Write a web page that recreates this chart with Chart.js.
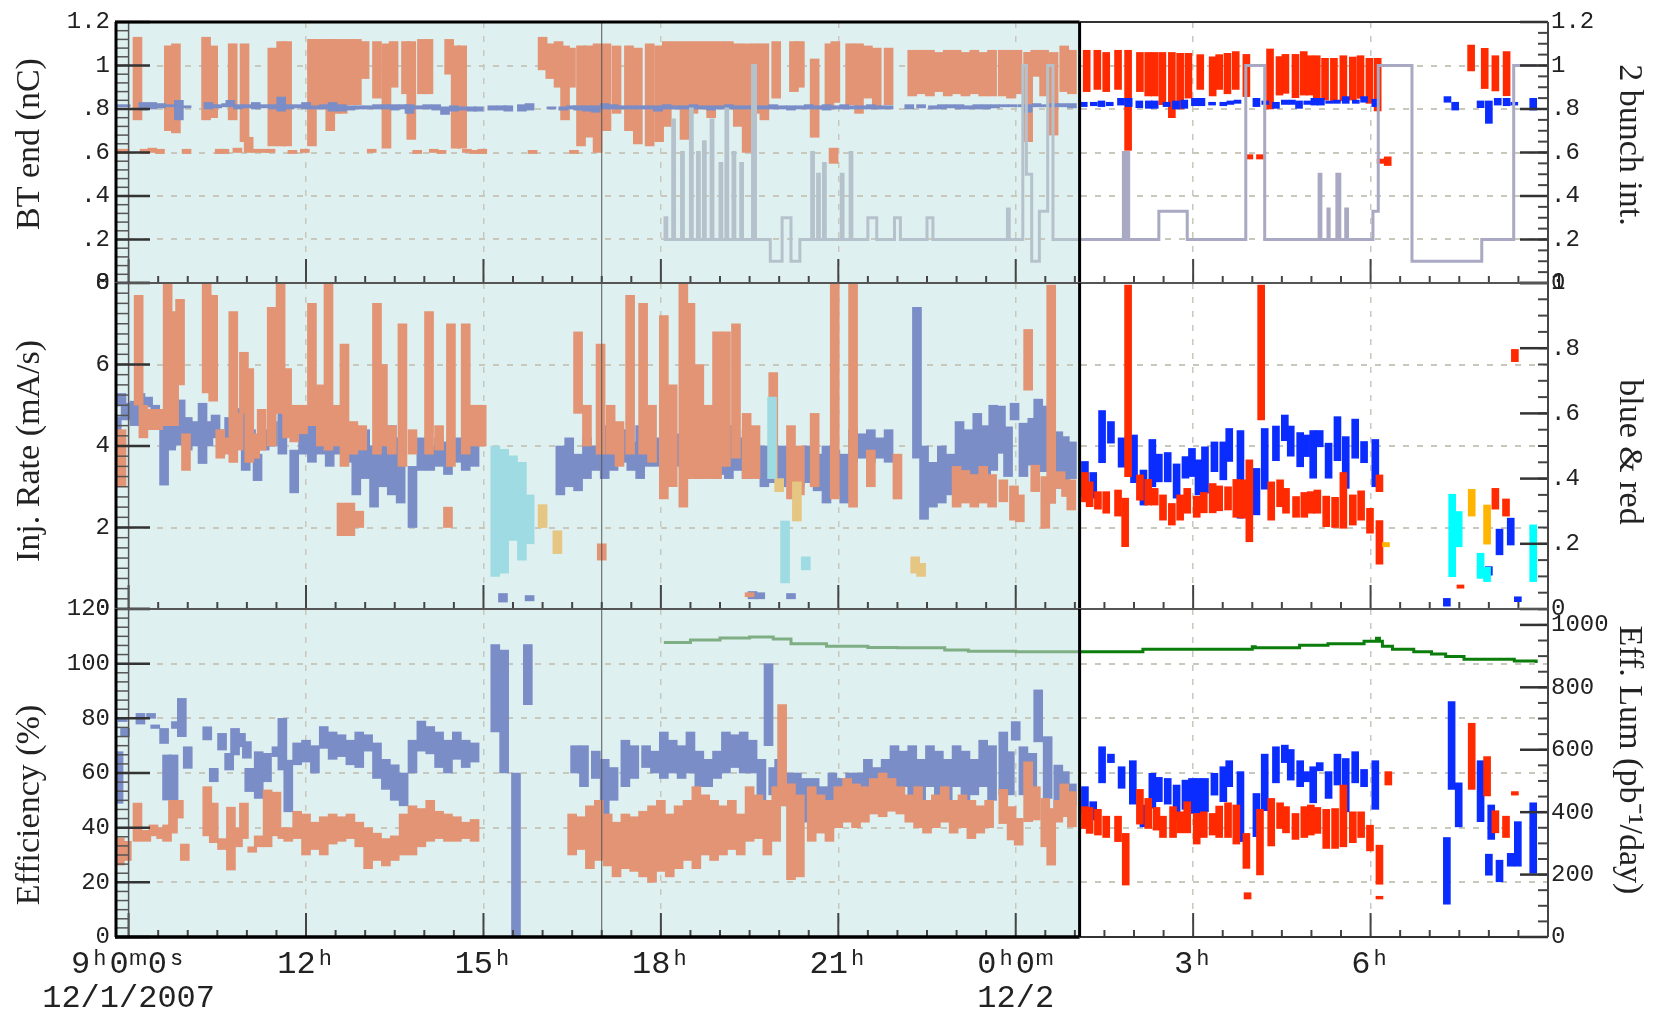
<!DOCTYPE html>
<html>
<head>
<meta charset="utf-8">
<title>Injection summary 12/1/2007</title>
<script src="https://cdn.jsdelivr.net/npm/chart.js@4.4.1/dist/chart.umd.min.js"></script>
<style>
  body { margin: 0; background: #fff; }
  #box { position: relative; width: 1662px; height: 1015px; }
  #box canvas { position: absolute; left: 0; top: 0; }
</style>
</head>
<body>
<div id="box">
  <canvas id="pTop" width="1662" height="1015"></canvas>
  <canvas id="pMid" width="1662" height="1015"></canvas>
  <canvas id="pBot" width="1662" height="1015"></canvas>
</div>
<script>
// time is in hours from 0h of 12/1/2007 (24 = 0h on 12/2)
const NOW = 25.08;            // end of the shaded history part
const T_MIN = 8.77, T_MAX = 33.0;
const markerHour = 17;

const xTickHours = [9, 12, 15, 18, 21, 24, 27, 30];
const xTickLabels = [['9ʰ0ᵐ0ˢ', '12/1/2007'], '12ʰ', '15ʰ', '18ʰ', '21ʰ', ['0ʰ0ᵐ', '12/2'], '3ʰ', '6ʰ'];

const chargeTicks = [0, 0.2, 0.4, 0.6, 0.8, 1, 1.2];
const rateTicks = [0, 2, 4, 6, 8];
const ratioTicks = [0, 0.2, 0.4, 0.6, 0.8, 1];
const effTicks = [0, 20, 40, 60, 80, 100, 120];
const lumTicks = [0, 200, 400, 600, 800, 1000];

// ---- top: BT end charge (nC), [time, low, high]
const herCharge = [
  [8.80,0.595,0.615],[8.93,0.595,0.615],[9.27,0.595,0.615],[9.40,0.60,0.62],[9.53,0.595,0.615],
  [9.98,0.595,0.615],[10.54,0.595,0.615],[10.62,0.595,0.615],[10.84,0.60,0.62],[11.03,0.60,0.67],
  [11.17,0.60,0.615],[11.30,0.60,0.615],[11.40,0.60,0.615],[11.77,0.595,0.61],[11.98,0.60,0.615],
  [13.11,0.60,0.615],[13.88,0.595,0.61],[14.16,0.60,0.615],[14.29,0.595,0.61],[14.72,0.60,0.615],
  [14.85,0.595,0.61],[14.98,0.595,0.615],[15.83,0.595,0.61],[16.53,0.595,0.61],
  [9.15,0.75,1.13],[9.68,0.70,1.09],[9.80,0.69,1.10],[10.31,0.75,1.13],[10.43,0.76,1.09],
  [10.76,0.75,1.10],[10.96,0.65,1.10],[11.43,0.63,1.08],[11.58,0.63,1.11],[11.68,0.63,1.11],
  [12.10,0.63,1.12],[12.21,0.80,1.12],[12.31,0.80,1.12],[12.41,0.70,1.12],[12.51,0.78,1.12],
  [12.62,0.78,1.12],[12.74,0.82,1.12],[12.86,0.82,1.12],[12.99,0.94,1.11],[13.20,0.85,1.11],
  [13.36,0.62,1.10],[13.48,0.90,1.11],[13.69,0.87,1.11],[13.78,0.66,1.11],[13.96,0.87,1.12],
  [14.07,0.87,1.12],[14.42,0.96,1.12],[14.53,0.62,1.09],[14.64,0.62,1.09],[16.00,0.98,1.13],
  [16.13,0.94,1.10],[16.27,0.90,1.11],[16.38,0.75,1.09],[16.48,0.90,1.08],[16.65,0.63,1.09],
  [16.78,0.67,1.09],[16.93,0.60,1.10],[17.08,0.70,1.10],[17.25,0.78,1.09],[17.46,0.70,1.09],
  [17.61,0.64,1.08],[17.81,0.63,1.10],[17.97,0.65,1.09],
  [18.10,0.72,1.11],[18.25,0.80,1.11],[18.40,0.66,1.11],[18.55,0.78,1.11],[18.70,0.80,1.11],
  [18.85,0.76,1.11],[19.00,0.81,1.11],[19.15,0.80,1.11],[19.30,0.72,1.10],[19.45,0.60,1.10],
  [19.60,0.78,1.10],[19.75,0.75,1.10],[19.95,0.85,1.11],[20.25,0.88,1.11],[20.35,0.90,1.11],
  [20.60,0.67,1.03],[20.85,0.80,1.10],[20.95,0.83,1.11],[20.92,0.55,0.62],[21.20,0.82,1.10],
  [21.35,0.78,1.10],[21.50,0.85,1.09],[21.65,0.80,1.08],[21.85,0.82,1.08],
  [22.25,0.86,1.07],[22.40,0.87,1.07],[22.55,0.86,1.07],[22.70,0.88,1.06],[22.85,0.86,1.07],
  [23.00,0.87,1.07],[23.15,0.86,1.06],[23.30,0.87,1.07],[23.45,0.86,1.06],[23.60,0.86,1.07],
  [23.78,0.86,1.07],[23.92,0.85,1.07],[24.03,0.87,1.07],[24.21,0.65,1.06],[24.33,0.95,1.07],
  [24.48,0.86,1.07],[24.64,0.68,1.06],[24.82,0.88,1.09],[24.95,0.87,1.07],
  [25.20,0.88,1.07],[25.38,0.89,1.07],[25.53,0.88,1.06],[25.73,0.89,1.07],[25.90,0.61,1.07],
  [26.10,0.88,1.06],[26.24,0.86,1.06],[26.35,0.86,1.06],[26.48,0.82,1.06],[26.64,0.76,1.06],
  [26.78,0.80,1.056],[26.92,0.85,1.056],[27.12,0.89,1.05],[27.33,0.86,1.04],[27.44,0.89,1.05],
  [27.58,0.87,1.056],[27.72,0.89,1.064],[27.90,0.857,1.051],[27.95,0.57,0.59],[28.13,0.57,0.59],
  [28.30,0.80,1.076],[28.46,0.864,1.041],[28.56,0.872,1.051],[28.73,0.852,1.051],[28.87,0.864,1.064],
  [28.97,0.864,1.045],[29.09,0.841,1.045],[29.23,0.841,1.033],[29.38,0.837,1.033],[29.54,0.837,1.045],
  [29.70,0.841,1.039],[29.83,0.849,1.045],[29.98,0.826,1.033],[30.12,0.791,1.033],[30.17,0.55,0.57],
  [30.29,0.54,0.58],[31.70,0.975,1.094],[31.93,0.894,1.079],[32.11,0.883,1.045],[32.30,0.861,1.064]
];
const lerCharge = [
  [8.80,0.81,0.82],[8.95,0.81,0.82],[9.25,0.795,0.83],[9.40,0.80,0.83],[9.55,0.805,0.825],
  [9.70,0.81,0.82],[9.85,0.75,0.84],[9.98,0.805,0.815],[10.35,0.80,0.83],[10.50,0.805,0.82],
  [10.65,0.81,0.825],[10.72,0.81,0.84],[10.85,0.80,0.82],[11.00,0.805,0.82],[11.15,0.80,0.83],
  [11.30,0.805,0.82],[11.45,0.80,0.82],[11.58,0.79,0.855],[11.72,0.80,0.82],[11.88,0.805,0.82],
  [12.00,0.80,0.83],[12.15,0.80,0.815],[12.30,0.80,0.82],[12.45,0.79,0.83],[12.60,0.79,0.82],
  [12.75,0.795,0.815],[12.90,0.80,0.815],[13.05,0.80,0.815],[13.20,0.80,0.82],[13.35,0.80,0.82],
  [13.50,0.795,0.82],[13.65,0.80,0.82],[13.75,0.78,0.82],[13.90,0.80,0.815],[14.05,0.80,0.82],
  [14.20,0.795,0.82],[14.35,0.775,0.81],[14.50,0.79,0.815],[14.65,0.795,0.81],[14.80,0.79,0.81],
  [14.92,0.79,0.81],[15.15,0.795,0.815],[15.30,0.795,0.815],[15.42,0.79,0.815],[15.65,0.79,0.82],
  [15.78,0.795,0.825],[16.15,0.80,0.81],[16.35,0.795,0.81],[16.48,0.80,0.815],[16.60,0.795,0.815],
  [16.75,0.79,0.815],[16.90,0.785,0.815],[17.05,0.80,0.825],[17.20,0.80,0.82],[17.35,0.80,0.815],
  [17.50,0.80,0.815],[17.65,0.80,0.815],[17.80,0.80,0.815],[17.95,0.79,0.815],[18.10,0.80,0.82],
  [18.25,0.80,0.815],[18.40,0.80,0.815],[18.55,0.80,0.82],[18.70,0.80,0.815],[18.85,0.795,0.815],
  [19.00,0.80,0.815],[19.15,0.80,0.82],[19.30,0.80,0.815],[19.45,0.80,0.815],[19.60,0.80,0.815],
  [19.75,0.80,0.815],[19.90,0.80,0.82],[20.05,0.80,0.815],[20.20,0.795,0.815],[20.35,0.80,0.815],
  [20.50,0.80,0.82],[20.65,0.80,0.815],[20.80,0.795,0.82],[20.95,0.80,0.815],[21.10,0.80,0.82],
  [21.25,0.80,0.815],[21.40,0.80,0.815],[21.55,0.80,0.82],[21.70,0.80,0.815],[21.85,0.80,0.815],
  [22.20,0.80,0.82],[22.40,0.805,0.82],[22.60,0.80,0.815],[22.75,0.80,0.82],[22.90,0.805,0.82],
  [23.05,0.80,0.82],[23.20,0.80,0.815],[23.35,0.80,0.82],[23.50,0.80,0.82],[23.65,0.805,0.82],
  [23.80,0.81,0.82],[23.95,0.81,0.82],[24.12,0.81,0.82],[24.20,0.785,0.82],[24.35,0.81,0.825],
  [24.50,0.81,0.82],[24.65,0.81,0.825],[24.80,0.81,0.825],[24.95,0.805,0.825],
  [25.15,0.811,0.831],[25.32,0.815,0.831],[25.45,0.811,0.837],[25.59,0.815,0.831],[25.78,0.818,0.849],
  [25.91,0.811,0.849],[26.09,0.806,0.837],[26.25,0.803,0.837],[26.35,0.803,0.837],[26.55,0.811,0.831],
  [26.71,0.800,0.837],[26.85,0.803,0.841],[27.03,0.815,0.849],[27.14,0.815,0.849],[27.32,0.818,0.831],
  [27.51,0.815,0.831],[27.63,0.821,0.837],[27.75,0.826,0.841],[28.07,0.811,0.849],[28.22,0.821,0.837],
  [28.40,0.803,0.831],[28.55,0.821,0.841],[28.67,0.821,0.841],[28.79,0.803,0.837],[28.93,0.821,0.837],
  [29.05,0.818,0.849],[29.16,0.818,0.849],[29.30,0.826,0.837],[29.43,0.826,0.841],[29.58,0.826,0.857],
  [29.75,0.826,0.841],[29.89,0.831,0.857],[30.08,0.811,0.845],[31.30,0.831,0.857],[31.43,0.795,0.831],
  [31.86,0.806,0.837],[32.00,0.734,0.837],[32.15,0.818,0.849],[32.30,0.815,0.849],[32.43,0.818,0.831],
  [32.75,0.795,0.849]
];
// two bunch intensity, step line [time, value]
const twoBunch = [
  [18.05,0.2],[18.07,0.3],[18.1,0.2],[18.2,0.75],[18.23,0.2],[18.35,0.6],[18.38,0.2],[18.5,0.8],
  [18.53,0.2],[18.62,0.6],[18.65,0.2],[18.72,0.65],[18.75,0.2],[18.85,0.75],[18.88,0.2],[19.0,0.55],
  [19.03,0.2],[19.1,0.8],[19.13,0.2],[19.22,0.6],[19.25,0.2],[19.35,0.55],[19.38,0.2],[19.55,1.0],
  [19.6,0.2],[19.85,0.1],[20.05,0.3],[20.2,0.1],[20.35,0.2],[20.55,0.6],[20.58,0.2],[20.65,0.5],
  [20.68,0.2],[20.75,0.55],[20.78,0.2],[21.05,0.5],[21.08,0.2],[21.2,0.6],[21.23,0.2],[21.5,0.3],
  [21.65,0.2],[21.95,0.3],[22.05,0.2],[22.5,0.3],[22.6,0.2],[23.86,0.34],[23.89,0.2],[24.12,1.0],
  [24.18,0.5],[24.27,0.1],[24.4,0.33],[24.54,1.0],[24.63,0.2],[25.08,0.2],
  [25.82,0.6],[25.85,0.2],[25.88,0.6],[25.91,0.2],[26.42,0.33],[26.90,0.2],[27.89,1.0],[28.21,0.2],
  [29.13,0.5],[29.16,0.2],[29.28,0.34],[29.30,0.2],[29.43,0.5],[29.48,0.2],[29.58,0.34],[29.61,0.2],
  [30.04,0.33],[30.13,1.0],[30.70,0.1],[31.88,0.2],[32.42,1.0],[32.81,1.0]
];

// ---- middle: injection rate (mA/s)
const herRate = [
  [8.88,3.0,4.4],[9.17,5.0,7.7],[9.25,4.2,5.0],[9.35,4.4,4.9],[9.5,4.4,4.9],[9.66,4.5,8.0],
  [9.77,4.5,7.3],[9.87,5.5,7.6],[9.97,3.4,4.3],[10.32,5.3,8.0],[10.43,5.1,7.7],[10.55,3.7,4.4],
  [10.65,3.8,4.2],[10.77,3.6,7.3],[10.86,3.9,4.8],[10.95,4.8,6.3],[11.04,3.6,5.9],[11.14,3.7,4.3],
  [11.25,3.9,4.9],[11.42,4.0,7.4],[11.57,4.8,8.0],[11.68,4.2,5.9],[11.8,4.1,5.0],[11.95,4.3,5.0],
  [12.1,4.5,7.5],[12.25,4.0,5.5],[12.38,3.9,8.0],[12.5,4.0,5.0],[12.65,3.5,6.5],[12.8,3.8,4.6],
  [12.95,3.9,4.5],[13.2,3.8,7.5],[13.3,4.0,6.0],[13.45,3.8,4.5],[13.63,3.5,7.0],[13.8,3.8,4.4],
  [14.08,3.8,7.3],[14.25,3.9,4.5],[14.45,3.5,7.0],[14.7,3.8,7.0],[14.85,4.0,5.0],[14.97,4.0,5.0],
  [12.6,1.8,2.6],[12.75,1.8,2.6],[12.9,2.0,2.4],[14.4,2.0,2.5],
  [16.6,4.8,6.8],[16.75,4.0,5.0],[16.98,3.8,6.5],[17.0,1.2,1.6],[17.15,3.8,5.0],[17.3,3.5,4.6],
  [17.48,3.8,7.7],[17.7,3.8,7.5],[17.85,3.6,5.0],[18.05,2.7,7.2],[18.2,3.0,5.5],[18.38,2.5,8.0],
  [18.5,3.2,7.5],[18.65,3.2,6.0],[18.8,3.2,5.0],[18.95,3.2,6.8],[19.1,3.5,6.8],[19.27,3.7,7.0],
  [19.45,3.2,4.8],[19.5,0.3,0.4],[19.6,3.2,4.5],[19.9,3.2,5.8],[20.2,2.7,4.5],[20.35,2.8,4.0],
  [20.6,3.0,4.8],[20.94,2.7,8.0],[21.25,2.5,8.0],[21.55,3.0,3.9],[22.0,2.7,3.8],
  [23.0,2.5,3.5],[23.15,2.6,3.4],[23.3,2.5,3.3],[23.45,2.6,3.5],[23.6,2.5,3.3],[23.79,2.63,3.17],
  [23.97,2.18,3.02],[24.07,2.14,2.8],[24.21,5.37,6.86],[24.33,2.88,3.53],[24.5,1.98,3.25],
  [24.6,2.59,7.95],[24.76,2.96,3.37],[24.85,2.76,3.17],[24.94,2.43,3.17],
  [25.17,2.63,3.35],[25.25,2.51,3.12],[25.39,2.45,2.88],[25.53,2.35,2.88],[25.73,2.28,2.92],
  [25.90,3.25,7.95],[25.85,1.53,2.72],[26.10,2.67,3.29],[26.24,2.55,3.18],[26.35,2.55,2.96],
  [26.49,2.18,2.80],[26.64,2.06,2.59],[26.78,2.18,2.80],[26.90,2.35,2.96],[27.06,2.25,2.77],
  [27.18,2.36,2.86],[27.33,2.36,3.08],[27.44,2.41,3.02],[27.59,2.43,3.0],[27.73,2.25,3.18],
  [27.84,2.23,3.17],[27.95,1.65,3.66],[28.15,4.64,7.95],[28.32,2.18,3.12],[28.47,2.51,3.17],
  [28.57,2.35,2.96],[28.74,2.25,2.76],[28.88,2.25,2.86],[28.99,2.35,2.88],[29.10,2.35,2.92],
  [29.25,2.02,2.77],[29.40,2.0,2.74],[29.54,1.98,3.35],[29.70,2.06,2.80],[29.84,2.18,2.90],
  [29.99,1.86,2.47],[30.15,2.88,3.29],[30.15,1.1,2.17],[31.52,0.51,0.59],[32.11,2.45,2.96],
  [32.29,2.28,2.70],[32.44,6.07,6.37]
];
const lerRate = [
  [8.80,3.08,4.72],[8.88,4.98,5.29],[8.95,4.64,5.05],[9.10,4.5,5.1],[9.20,4.92,5.29],[9.33,4.96,5.2],
  [9.45,4.6,5.0],[9.60,3.04,4.88],[9.72,3.9,4.7],[9.88,4.02,5.13],[10.0,3.9,4.7],[10.12,4.0,4.6],
  [10.25,3.57,5.05],[10.35,4.0,4.6],[10.47,4.2,4.76],[10.60,4.0,4.4],[10.70,4.2,4.7],[10.80,4.6,4.92],
  [10.90,4.0,4.9],[10.98,3.4,4.3],[11.07,4.0,4.4],[11.18,3.15,3.8],[11.3,3.9,4.4],[11.44,4.0,4.6],
  [11.6,3.8,5.1],[11.8,2.85,3.9],[11.95,3.8,4.6],[12.1,3.6,4.5],[12.25,3.8,4.8],[12.4,3.5,4.3],
  [12.55,3.8,4.6],[12.7,3.6,4.5],[12.85,2.8,4.2],[13.0,3.2,4.4],[13.15,2.5,4.0],[13.3,3.0,4.3],
  [13.45,2.8,4.5],[13.6,2.6,4.2],[13.8,2.0,3.5],[13.95,3.4,4.2],[14.1,3.4,4.0],[14.25,3.5,4.2],
  [14.4,3.3,4.1],[14.55,3.6,4.2],[14.7,3.4,4.1],[14.85,3.5,4.0],
  [15.33,0.17,0.38],[15.78,0.2,0.33],[19.55,0.25,0.43],[19.68,0.25,0.4],[20.2,0.25,0.38],
  [16.3,2.8,4.0],[16.45,3.0,4.2],[16.6,2.9,3.8],[16.75,3.2,4.2],[16.9,3.4,4.0],[17.05,3.2,4.5],
  [17.2,3.4,4.2],[17.35,3.6,4.4],[17.5,3.4,4.1],[17.65,3.2,4.5],[17.8,3.5,4.3],[17.95,3.5,4.2],
  [18.1,3.6,4.4],[18.25,3.5,4.3],[18.4,3.6,4.4],[18.55,3.5,4.2],[18.7,3.6,4.4],[18.85,3.5,4.3],
  [19.0,3.3,4.4],[19.15,3.2,4.5],[19.3,3.4,4.2],[19.45,3.2,4.4],[19.6,3.3,4.0],[19.75,3.0,4.0],
  [19.9,3.1,3.9],[20.05,3.0,4.0],[20.2,3.2,3.8],[20.35,3.0,3.9],[20.5,3.1,4.0],[20.65,2.9,3.8],
  [20.8,2.6,4.0],[20.95,2.8,3.9],[21.1,2.6,3.8],[21.25,3.6,4.4],[21.4,3.7,4.3],[21.55,3.6,4.4],
  [21.7,3.7,4.2],[21.85,3.6,4.4],[22.33,3.7,7.4],[22.45,2.2,4.0],[22.6,2.5,3.6],[22.75,2.6,4.0],
  [22.9,2.8,3.8],[23.05,3.0,4.6],[23.2,3.2,4.4],[23.35,3.0,4.8],[23.5,3.2,4.5],[23.62,3.4,5.0],
  [23.75,3.82,4.98],[23.87,3.25,4.47],[23.98,4.64,5.05],[24.13,3.25,4.56],[24.28,3.53,4.68],
  [24.38,3.37,5.15],[24.54,3.37,4.98],[24.72,2.96,4.35],[24.83,3.17,4.23],[24.95,3.2,4.1],
  [25.17,2.76,3.62],[25.31,2.72,3.35],[25.46,3.59,4.87],[25.61,4.07,4.6],[25.79,3.48,4.2],
  [26.00,3.1,4.27],[26.16,2.55,3.41],[26.31,3.0,4.16],[26.42,3.12,3.8],[26.57,3.12,3.84],
  [26.72,2.72,3.56],[26.87,3.21,3.74],[26.98,3.25,3.94],[27.09,2.8,3.66],[27.20,2.84,3.98],
  [27.36,3.37,4.1],[27.51,3.17,4.1],[27.61,3.62,4.43],[27.80,2.23,4.38],[28.07,2.31,3.45],
  [28.21,2.94,4.43],[28.40,3.64,4.49],[28.55,4.13,4.76],[28.65,3.75,4.49],[28.81,3.49,4.33],
  [28.91,3.74,4.27],[29.03,3.21,4.38],[29.14,3.98,4.38],[29.29,3.21,4.07],[29.44,3.64,4.72],
  [29.58,2.96,4.23],[29.74,3.70,4.66],[29.89,3.59,4.11],[30.08,3.0,4.16],[31.29,0.07,0.26],
  [32.00,0.83,1.04],[32.18,1.33,1.96],[32.37,1.57,2.23],[32.49,0.18,0.30]
];
// "blue & red" ratio bars on the right axis
const cyanRatio = [
  [15.2,0.10,0.50],[15.35,0.11,0.49],[15.5,0.21,0.47],[15.65,0.15,0.45],[15.78,0.20,0.35],
  [19.88,0.40,0.65],[20.1,0.08,0.27],[20.45,0.12,0.16],
  [31.38,0.099,0.352],[31.49,0.191,0.299],[31.86,0.094,0.171],[31.97,0.084,0.128],[32.75,0.084,0.258]
];
const yellowRatio = [
  [16.0,0.25,0.32],[16.25,0.17,0.24],[20.0,0.36,0.40],[20.3,0.27,0.39],[22.3,0.11,0.16],[22.4,0.10,0.14],
  [30.26,0.191,0.204],[31.71,0.285,0.367],[31.97,0.199,0.319]
];

// ---- bottom: efficiency (%)
const herEff = [
  [8.85,26.3,36.2],[8.97,28,35],[9.15,35,49],[9.3,35,39],[9.42,37,41],[9.55,36,40],[9.65,35,41],
  [9.75,38,50],[9.85,43.5,50],[9.95,28,34],[10.33,37,55],[10.44,34.5,49],[10.58,32,36],[10.73,24.5,47.5],
  [10.85,33,40],[10.95,36,49],[11.09,31,33],[11.2,33,37],[11.35,33,53.8],[11.5,37,53],[11.6,36,40],
  [11.7,35,40],[11.85,36,46],[12.0,30,45],[12.15,32,42],[12.3,30,44],[12.45,34,45],[12.6,35,44],
  [12.75,36,45],[12.9,33,42],[13.05,25,40],[13.2,28,38],[13.35,26,36],[13.5,28,37],[13.65,30,45],
  [13.8,30,48],[13.95,33,47],[14.1,35,50],[14.25,36,46],[14.4,35,45],[14.55,35,44],[14.7,36,42],
  [14.85,35,43],[16.5,30,45],[16.65,32,44],[16.8,25,48],[16.95,28,50],[17.1,26,45],[17.25,22,42],
  [17.4,25,45],[17.55,24,44],[17.7,22,46],[17.85,20,48],[18.0,24,50],[18.15,22,45],[18.3,25,48],
  [18.45,28,50],[18.6,25,55],[18.75,30,52],[18.9,28,50],[19.05,30,48],[19.2,32,50],[19.35,30,45],
  [19.5,35,55],[19.65,36,52],[19.8,30,50],[19.95,35,55],[20.05,48,85],[20.2,21,56],[20.35,22,52],
  [20.55,35,55],[20.7,38,52],[20.85,35,50],[21.0,40,55],[21.15,42,58],[21.3,40,56],[21.45,42,55],
  [21.6,45,58],[21.75,44,60],[21.9,46,58],[22.05,45,55],[22.2,42,52],[22.35,40,55],[22.5,38,50],
  [22.65,40,52],[22.8,42,55],[22.95,38,50],[23.1,40,52],[23.25,36,50],[23.4,38,48],[23.55,40,50],
  [23.79,41.5,54],[23.93,35.5,47.7],[24.05,33.6,43.4],[24.21,42.2,64.1],[24.34,42.8,55],
  [24.5,33,50.7],[24.6,26.3,47],[24.72,42,50],[24.82,44,56],[24.95,40.3,53.2],
  [25.17,39.7,47.7],[25.25,37.9,47.4],[25.39,37.3,46.7],[25.53,36.4,44.2],[25.73,34.9,44.2],
  [25.86,19.0,37.9],[26.10,41.3,54.0],[26.24,39.7,50.7],[26.38,39.1,47.4],[26.49,36.4,44.2],
  [26.66,36.4,47.7],[26.78,38.1,45.8],[26.90,38.1,49.5],[27.06,34.0,45.2],[27.18,36.4,45.8],
  [27.33,37.3,45.2],[27.44,36.4,47.9],[27.59,36.4,49.1],[27.73,34.0,48.3],[27.90,25.1,37.9],
  [27.92,13.9,16.2],[28.13,22.7,46.7],[28.32,33.3,50.7],[28.47,39.7,49.1],[28.57,38.1,47.7],
  [28.73,35.7,45.2],[28.88,36.4,47.7],[28.99,37.3,48.3],[29.10,37.9,47.4],[29.25,32.4,46.7],
  [29.40,32.4,47.0],[29.54,33.0,55.6],[29.70,34.5,45.8],[29.84,36.4,45.8],[29.99,31.5,40.9],
  [30.15,19.3,33.6],[30.15,13.9,14.9],[30.30,55.6,60.5],[31.71,54.0,78.2],[31.97,51.6,66.0],
  [32.11,38.1,46.2],[32.29,36.4,44.2],[32.44,51.9,53.2]
];
const lerEff = [
  [8.83,48.9,67.8],[8.9,78.8,80],[8.94,73.3,76.3],[9.2,77.9,81.8],[9.38,80,81.8],[9.45,76.3,77.6],
  [9.6,70.8,76.3],[9.65,50.1,66.6],[9.76,50.1,66.6],[9.8,76.3,78.8],[9.9,73.3,87.3],[10.0,61.7,69.6],
  [10.33,72.1,76.9],[10.44,56.8,61.7],[10.58,68.4,74.5],[10.7,61.1,67.2],[10.8,66.6,76.3],
  [10.9,69.6,74.5],[11.0,65.4,71.5],[11.04,53.2,61.7],[11.2,50.7,67.8],[11.34,56.8,67.2],
  [11.5,66,69.6],[11.6,61.1,80],[11.7,45.8,64.7],[11.85,63,71],[12.0,64,72],[12.15,60,70],
  [12.3,69,77],[12.45,65,75],[12.6,66,74],[12.75,63,72],[12.9,62,75],[13.05,68,74],[13.2,58,71],
  [13.35,54,65],[13.5,50,63],[13.65,48,60],[13.8,60,72],[13.95,68,79],[14.1,67,77],[14.25,62,75],
  [14.4,60,72],[14.55,65,75],[14.7,62,72],[14.85,64,71],[15.2,75,107],[15.35,60,105],[15.55,0,60],
  [15.75,85,107],[16.55,60,70],[16.7,55,70],[16.9,58,68],[17.05,45,65],[17.2,50,62],[17.4,55,72],
  [17.55,58,70],[17.75,62,70],[17.9,60,68],[18.05,58,75],[18.2,60,72],[18.35,58,70],[18.5,60,75],
  [18.65,55,68],[18.8,55,65],[18.95,58,68],[19.1,60,75],[19.25,62,74],[19.4,60,75],[19.55,60,72],
  [19.7,50,65],[19.82,70,100],[19.9,52,62],[20.0,50,65],[20.15,48,60],[20.3,40,60],[20.45,42,58],[20.6,40,58],
  [20.75,40,55],[20.9,45,60],[21.05,45,58],[21.2,48,60],[21.35,45,60],[21.5,50,65],[21.65,50,62],
  [21.8,52,65],[21.95,50,70],[22.1,55,68],[22.25,52,70],[22.4,50,65],[22.55,55,70],[22.7,52,68],
  [22.85,50,65],[23.0,55,70],[23.15,50,68],[23.3,52,65],[23.45,55,72],[23.6,50,70],[23.79,52,75],
  [23.9,52,67.8],[24.0,72,78.8],[24.13,52,69.6],[24.28,53.2,67.2],[24.38,71.4,90.4],[24.54,50.7,73.3],
  [24.72,45.8,62.9],[24.83,51.3,60.5],[24.95,48,56],
  [25.17,45.2,55.0],[25.31,42.8,49.5],[25.46,56.4,69.6],[25.61,63.8,66.9],[25.79,54.4,62.3],
  [25.98,48.6,64.5],[26.16,40.3,48.3],[26.31,47.1,59.9],[26.42,49.5,58.4],[26.57,48.6,58.0],
  [26.72,42.8,55.6],[26.87,46.7,57.4],[26.98,45.2,58.0],[27.09,45.2,58.0],[27.20,45.8,58.0],
  [27.36,51.9,59.9],[27.51,49.5,62.3],[27.61,55.0,64.5],[27.80,34.9,60.5],[28.07,36.7,52.5],
  [28.21,46.2,66.9],[28.40,56.4,69.6],[28.55,63.8,70.2],[28.65,57.4,68.6],[28.81,55.0,64.5],
  [28.91,56.8,60.5],[29.03,49.1,62.3],[29.14,60.8,63.8],[29.29,50.7,60.5],[29.44,55.6,66.9],
  [29.58,45.8,65.3],[29.74,56.4,67.8],[29.89,55.0,61.3],[30.08,46.7,64.5],[31.29,12.0,36.4],
  [31.37,54.0,86.1],[31.49,40.3,56.4],[31.86,42.2,64.5],[32.00,22.6,30.3],[32.04,35.7,48.3],
  [32.18,20.2,28.1],[32.37,25.9,30.6],[32.49,25.9,42.2],[32.75,23.3,49.1]
];
// effective luminosity (pb^-1/day), step line [time, value]
const effLum = [
  [18.05,944],[18.5,952],[19.0,958],[19.5,961],[19.9,955],[20.2,940],[20.8,932],[21.5,928],
  [22.0,927],[22.8,920],[23.2,916],[24.0,914],[25.08,914],
  [26.15,922],[28.0,930],[28.05,927],[28.8,935],[29.28,940],[29.89,948],[30.1,957],[30.15,948],
  [30.2,932],[30.37,922],[30.73,914],[31.03,907],[31.27,899],[31.58,890],[32.43,884],[32.8,878]
];

// ---------------- drawing ----------------
const W = 1662, H = 1015, PLOT_L = 115, PLOT_R = 1548;
const INK = '#222';
const GRID = '#c8c8bc';
const TICK_FONT = 'Liberation Mono';
const TITLE_FONT = "34px 'Liberation Serif'";
const COLORS = {
  herOld: 'rgb(226,148,116)', herNew: '#ff2a00',
  lerOld: 'rgb(122,141,199)', lerNew: '#0a2cff',
  greyOld: '#b6c2cb', greyNew: '#a9a9c3',
  cyanOld: '#9fdbe2', cyanNew: '#00ffff',
  yellowOld: '#e5c682', yellowNew: '#ffb400',
  greenOld: '#7fae84', greenNew: '#0b7d0b',
  shade: '#dff0f0'
};

const fmtFrac = v => { const s = String(+v.toFixed(2)); return s.startsWith('0.') ? s.slice(1) : s; };

function barSets(rows, yAxisID, oldColor, newColor, order) {
  const mk = (rs, color, w) => ({
    type: 'bar', stack: 'all', yAxisID, order,
    data: rs.map(r => ({ x: r[0], y: [r[1], r[2]] })),
    backgroundColor: color, barThickness: w, borderWidth: 0
  });
  return [mk(rows.filter(r => r[0] < NOW), oldColor, 9), mk(rows.filter(r => r[0] >= NOW), newColor, 7)];
}
function stepSets(rows, yAxisID, oldColor, newColor, order) {
  const mk = (rs, color) => ({
    type: 'line', yAxisID, order, stepped: true,
    data: rs.map(r => ({ x: r[0], y: r[1] })),
    borderColor: color, borderWidth: 3, pointRadius: 0, fill: false
  });
  return [mk(rows.filter(r => r[0] <= NOW), oldColor), mk(rows.filter(r => r[0] >= NOW), newColor)];
}

function yAxis(pos, min, max, ticks, fmt) {
  return {
    position: pos, min, max, stacked: false,
    afterFit: s => { s.width = pos === 'left' ? PLOT_L : W - PLOT_R; },
    afterBuildTicks: s => { s.ticks = ticks.map(v => ({ value: v })); },
    ticks: { callback: v => fmt(v), font: { family: TICK_FONT, size: 24 }, color: INK, padding: pos === 'left' ? 5 : 3, autoSkip: false },
    grid: {
      display: pos === 'left', drawTicks: false, lineWidth: 2,
      color: c => (c.tick && (c.tick.value === min || c.tick.value === max)) ? 'rgba(0,0,0,0)' : GRID
    },
    border: { display: false, dash: [6, 8] },
    title: { display: false }
  };
}

function xAxis(showLabels) {
  return {
    type: 'linear', min: T_MIN, max: T_MAX, offset: false,
    afterBuildTicks: s => { s.ticks = xTickHours.map(v => ({ value: v })); },
    afterFit: s => { s.height = showLabels ? 78 : 0; },
    ticks: {
      display: showLabels, autoSkip: false, maxRotation: 0, padding: 11, color: INK,
      font: { family: TICK_FONT, size: 32, lineHeight: 1.05 },
      callback: v => xTickLabels[xTickHours.indexOf(v)]
    },
    grid: { drawTicks: false, offset: false, lineWidth: 1.5, color: c => (c.tick && c.tick.value > 9) ? GRID : 'rgba(0,0,0,0)' },
    border: { display: false, dash: [6, 8] }
  };
}

// frame, tick ladders, axis titles and shading of the history part
const decor = {
  id: 'decor',
  beforeDraw(chart) {
    const { ctx, chartArea: a, scales } = chart;
    const xn = scales.x.getPixelForValue(NOW);
    ctx.save();
    ctx.fillStyle = COLORS.shade;
    ctx.fillRect(a.left, a.top, xn - a.left, a.bottom - a.top);
    ctx.restore();
  },
  afterDatasetsDraw(chart, args, o) {
    const { ctx, chartArea: a, scales } = chart;
    const x = scales.x, yl = scales.yL, yr = scales.yR;
    const line = (x1, y1, x2, y2, w, c) => {
      ctx.beginPath(); ctx.lineWidth = w; ctx.strokeStyle = c;
      ctx.moveTo(x1, y1); ctx.lineTo(x2, y2); ctx.stroke();
    };
    ctx.save();
    const xm = x.getPixelForValue(markerHour);
    line(xm, a.top, xm, a.bottom, 1, '#555');
    for (let h = 9; h <= T_MAX + 1e-9; h += 0.5) {
      const px = x.getPixelForValue(h);
      line(px, a.bottom, px, a.bottom - (h % 3 === 0 ? 24 : 7), 2, '#444');
    }
    const x9 = x.getPixelForValue(9);
    line(x9, a.top, x9, a.bottom, 1.5, '#555');
    for (let i = 0; ; i++) {
      const v = o.left.min + i * o.left.minor;
      if (v > o.left.max + 1e-9) break;
      const py = yl.getPixelForValue(v);
      line(a.left, py, x9, py, 1.5, '#555');
    }
    o.left.major.forEach(v => { const py = yl.getPixelForValue(v); line(a.left, py, a.left + 35, py, 2.5, '#333'); });
    for (let i = 0; ; i++) {
      const v = o.right.min + i * o.right.minor;
      if (v > o.right.max + 1e-9) break;
      const py = yr.getPixelForValue(v);
      line(a.right - 10, py, a.right, py, 2, '#444');
    }
    o.right.major.forEach(v => { const py = yr.getPixelForValue(v); line(a.right - 28, py, a.right, py, 2.5, '#333'); });
    const xn = x.getPixelForValue(NOW);
    if (o.first) { line(a.left, a.top, xn, a.top, 3, '#000'); line(xn, a.top, a.right, a.top, 2, '#333'); }
    else line(a.left, a.top, a.right, a.top, 2, '#555');
    if (o.last) { line(a.left, a.bottom, xn, a.bottom, 3.5, '#000'); line(xn, a.bottom, a.right, a.bottom, 2, '#333'); }
    line(a.right, a.top, a.right, a.bottom, 2, '#444');
    line(a.left + 1, a.top, a.left + 1, a.bottom, 3, '#000');
    line(xn, a.top, xn, a.bottom, 3, '#000');
    ctx.restore();
  },
  afterDraw(chart, args, o) {
    const ctx = chart.ctx;
    const title = (t, cx, cy, rot) => {
      ctx.save();
      ctx.translate(cx, cy); ctx.rotate(rot);
      ctx.font = TITLE_FONT; ctx.fillStyle = INK;
      ctx.textAlign = 'center'; ctx.textBaseline = 'middle';
      ctx.fillText(t, 0, 0);
      ctx.restore();
    };
    title(o.left.title, 30, o.left.titleY, -Math.PI / 2);
    title(o.right.title, 1629, o.right.titleY, Math.PI / 2);
  }
};

function panel(id, top, bottom, datasets, yL, yR, deco, showX) {
  return new Chart(document.getElementById(id), {
    type: 'bar',
    data: { datasets },
    options: {
      responsive: false, animation: false, devicePixelRatio: 1, events: [],
      layout: { padding: { top, bottom: showX ? H - bottom - 78 : H - bottom, left: 0, right: 0 } },
      scales: { x: xAxis(showX), yL, yR },
      plugins: { legend: { display: false }, tooltip: { enabled: false }, decor: deco }
    },
    plugins: [decor]
  });
}

panel('pTop', 22, 283,
  [...stepSets(twoBunch, 'yR', COLORS.greyOld, COLORS.greyNew, 0),
   ...barSets(lerCharge, 'yL', COLORS.lerOld, COLORS.lerNew, 1),
   ...barSets(herCharge, 'yL', COLORS.herOld, COLORS.herNew, 2)],
  yAxis('left', 0, 1.2, chargeTicks, fmtFrac),
  yAxis('right', 0, 1.2, chargeTicks, fmtFrac),
  { first: true, last: false,
    left: { min: 0, max: 1.2, minor: 0.04, major: chargeTicks, title: 'BT end (nC)', titleY: 144 },
    right: { min: 0, max: 1.2, minor: 0.05, major: chargeTicks, title: '2 bunch int.', titleY: 145 } },
  false);

panel('pMid', 283, 609,
  [...barSets(cyanRatio, 'yR', COLORS.cyanOld, COLORS.cyanNew, 0),
   ...barSets(yellowRatio, 'yR', COLORS.yellowOld, COLORS.yellowNew, 0),
   ...barSets(herRate, 'yL', COLORS.herOld, COLORS.herNew, 1),
   ...barSets(lerRate, 'yL', COLORS.lerOld, COLORS.lerNew, 2)],
  yAxis('left', 0, 8, rateTicks, v => String(v)),
  yAxis('right', 0, 1, ratioTicks, fmtFrac),
  { first: false, last: false,
    left: { min: 0, max: 8, minor: 0.25, major: rateTicks, title: 'Inj. Rate (mA/s)', titleY: 451 },
    right: { min: 0, max: 1, minor: 0.05, major: ratioTicks, title: 'blue & red', titleY: 452 } },
  false);

panel('pBot', 609, 937,
  [...stepSets(effLum, 'yR', COLORS.greenOld, COLORS.greenNew, 0),
   ...barSets(herEff, 'yL', COLORS.herOld, COLORS.herNew, 1),
   ...barSets(lerEff, 'yL', COLORS.lerOld, COLORS.lerNew, 2)],
  yAxis('left', 0, 120, effTicks, v => String(v)),
  yAxis('right', 0, 1051, lumTicks, v => String(v)),
  { first: false, last: true,
    left: { min: 0, max: 120, minor: 20 / 6, major: effTicks, title: 'Efficiency (%)', titleY: 805 },
    right: { min: 0, max: 1051, minor: 50, major: lumTicks, title: 'Eff. Lum (pb⁻¹/day)', titleY: 760 } },
  true);
</script>
</body>
</html>
